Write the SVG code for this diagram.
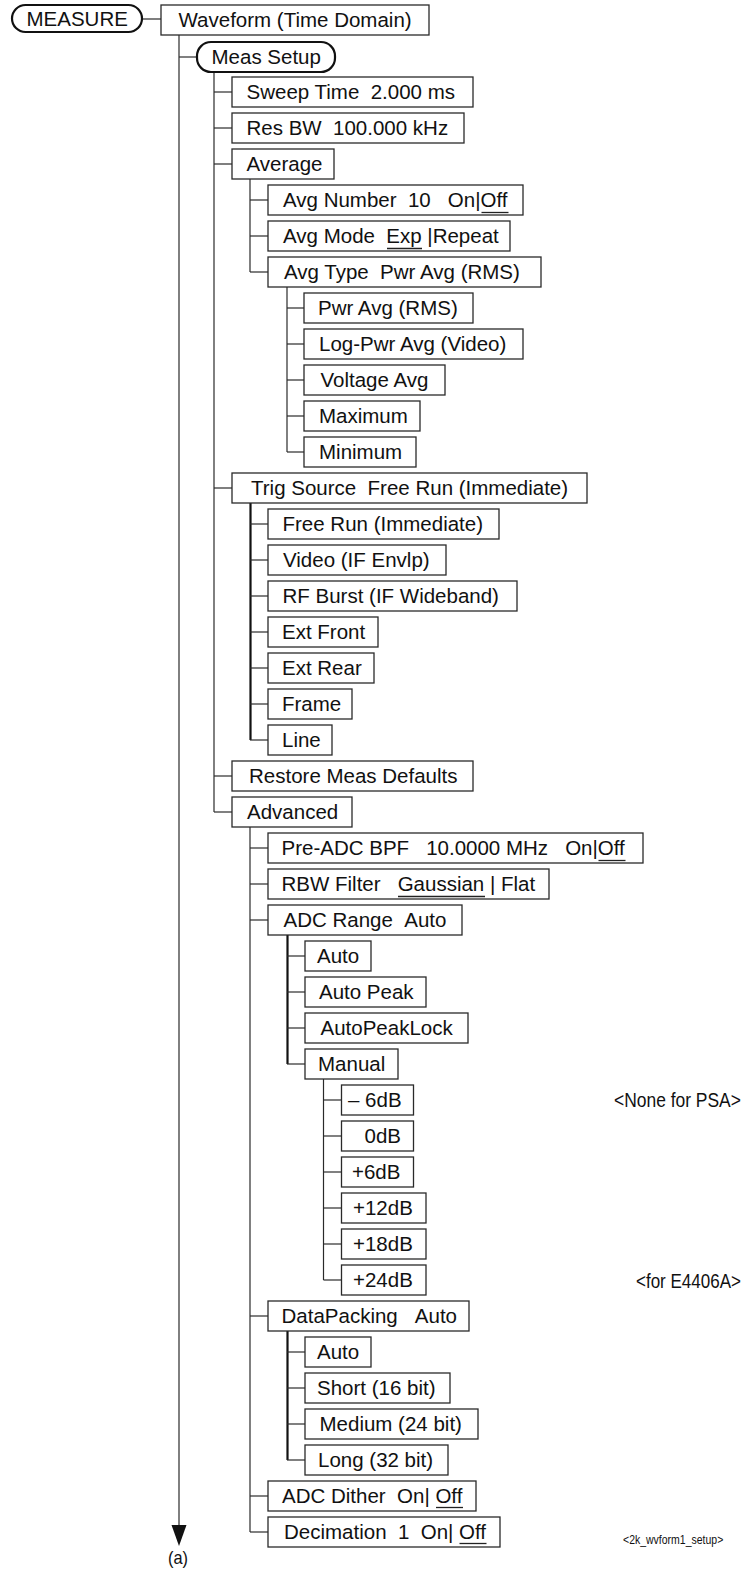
<svg xmlns="http://www.w3.org/2000/svg" width="745" height="1571" viewBox="0 0 745 1571">
<style>
  .bg{fill:#ffffff}
  .box{fill:#ffffff;stroke:#2a2a2a;stroke-width:1.3}
  .pill{fill:#ffffff;stroke:#111111;stroke-width:2.2}
  .t{font-family:"Liberation Sans",Arial,Helvetica,sans-serif;font-size:20.5px;fill:#111111}
  .ln{stroke:#2a2a2a;stroke-width:1.2;fill:none}
  .lnb{stroke:#111111;stroke-width:2.2;fill:none}
  .ul{stroke:#222222;stroke-width:1.3}
  .note{font-family:"Liberation Sans",Arial,sans-serif;fill:#111111}
</style>
<rect class="bg" x="0" y="0" width="745" height="1571"/>

<g id="connectors">
  <line class="ln" x1="142" y1="19" x2="161" y2="19"/>
  <line class="ln" x1="179" y1="35" x2="179" y2="1525"/>
  <polygon points="171.5,1525 186.5,1525 179,1546" fill="#111111"/>
  <line class="ln" x1="179" y1="57" x2="197" y2="57"/>
  <line class="ln" x1="214" y1="72" x2="214" y2="812"/>
  <line class="ln" x1="214" y1="92" x2="232" y2="92"/>
  <line class="ln" x1="214" y1="128" x2="232" y2="128"/>
  <line class="ln" x1="214" y1="164" x2="232" y2="164"/>
  <line class="ln" x1="214" y1="488" x2="232" y2="488"/>
  <line class="ln" x1="214" y1="776" x2="232" y2="776"/>
  <line class="ln" x1="214" y1="812" x2="232" y2="812"/>
  <line class="ln" x1="250" y1="179" x2="250" y2="272"/>
  <line class="ln" x1="250" y1="200" x2="268" y2="200"/>
  <line class="ln" x1="250" y1="236" x2="268" y2="236"/>
  <line class="ln" x1="250" y1="272" x2="268" y2="272"/>
  <line class="ln" x1="287" y1="287" x2="287" y2="452"/>
  <line class="ln" x1="287" y1="308" x2="304" y2="308"/>
  <line class="ln" x1="287" y1="344" x2="304" y2="344"/>
  <line class="ln" x1="287" y1="380" x2="304" y2="380"/>
  <line class="ln" x1="287" y1="416" x2="304" y2="416"/>
  <line class="ln" x1="287" y1="452" x2="304" y2="452"/>
  <line class="lnb" x1="250.5" y1="503" x2="250.5" y2="740"/>
  <line class="ln" x1="250" y1="524" x2="268" y2="524"/>
  <line class="ln" x1="250" y1="560" x2="268" y2="560"/>
  <line class="ln" x1="250" y1="596" x2="268" y2="596"/>
  <line class="ln" x1="250" y1="632" x2="268" y2="632"/>
  <line class="ln" x1="250" y1="668" x2="268" y2="668"/>
  <line class="ln" x1="250" y1="704" x2="268" y2="704"/>
  <line class="ln" x1="250" y1="740" x2="268" y2="740"/>
  <line class="ln" x1="250" y1="827" x2="250" y2="1532"/>
  <line class="ln" x1="250" y1="848" x2="268" y2="848"/>
  <line class="ln" x1="250" y1="884" x2="268" y2="884"/>
  <line class="ln" x1="250" y1="920" x2="268" y2="920"/>
  <line class="ln" x1="250" y1="1316" x2="268" y2="1316"/>
  <line class="ln" x1="250" y1="1496" x2="268" y2="1496"/>
  <line class="ln" x1="250" y1="1532" x2="268" y2="1532"/>
  <line class="lnb" x1="287.5" y1="935" x2="287.5" y2="1064"/>
  <line class="ln" x1="287" y1="956" x2="305" y2="956"/>
  <line class="ln" x1="287" y1="992" x2="305" y2="992"/>
  <line class="ln" x1="287" y1="1028" x2="305" y2="1028"/>
  <line class="ln" x1="287" y1="1064" x2="305" y2="1064"/>
  <line class="ln" x1="323.5" y1="1079" x2="323.5" y2="1280"/>
  <line class="ln" x1="323.5" y1="1100" x2="341.5" y2="1100"/>
  <line class="ln" x1="323.5" y1="1136" x2="341.5" y2="1136"/>
  <line class="ln" x1="323.5" y1="1172" x2="341.5" y2="1172"/>
  <line class="ln" x1="323.5" y1="1208" x2="341.5" y2="1208"/>
  <line class="ln" x1="323.5" y1="1244" x2="341.5" y2="1244"/>
  <line class="ln" x1="323.5" y1="1280" x2="341.5" y2="1280"/>
  <line class="lnb" x1="287.5" y1="1331" x2="287.5" y2="1460"/>
  <line class="ln" x1="287" y1="1352" x2="305" y2="1352"/>
  <line class="ln" x1="287" y1="1388" x2="305" y2="1388"/>
  <line class="ln" x1="287" y1="1424" x2="305" y2="1424"/>
  <line class="ln" x1="287" y1="1460" x2="305" y2="1460"/>
</g>

<g id="n-measure"><rect class="pill" x="12" y="5" width="130" height="27" rx="13.5"/><text class="t" x="26.5" y="26">MEASURE</text></g>
<g id="n-waveform"><rect class="box" x="161" y="5" width="268" height="30"/><text class="t" x="178.5" y="27">Waveform (Time Domain)</text></g>
<g id="n-meassetup"><rect class="pill" x="197" y="42" width="138" height="30" rx="14"/><text class="t" x="211.5" y="64">Meas Setup</text></g>
<g id="n-sweep"><rect class="box" x="232" y="77" width="241" height="30"/><text class="t" x="246.5" y="99">Sweep Time &#160;2.000 ms</text></g>
<g id="n-resbw"><rect class="box" x="232" y="113" width="232" height="30"/><text class="t" x="246.5" y="135">Res BW &#160;100.000 kHz</text></g>
<g id="n-average"><rect class="box" x="232" y="149" width="102" height="30"/><text class="t" x="246.5" y="171">Average</text></g>
<g id="n-avgnumber"><rect class="box" x="268" y="185" width="255" height="30"/><text class="t" x="283" y="207">Avg Number &#160;10 &#160;&#160;On|Off</text><line class="ul" x1="481.5" y1="212.5" x2="508.5" y2="212.5"/></g>
<g id="n-avgmode"><rect class="box" x="268" y="221" width="242" height="30"/><text class="t" x="283" y="243">Avg Mode &#160;Exp |Repeat</text><line class="ul" x1="387" y1="248.5" x2="422" y2="248.5"/></g>
<g id="n-avgtype"><rect class="box" x="268" y="257" width="273" height="30"/><text class="t" x="284" y="279">Avg Type &#160;Pwr Avg (RMS)</text></g>
<g id="n-pwravg"><rect class="box" x="304" y="293" width="169" height="30"/><text class="t" x="318" y="315">Pwr Avg (RMS)</text></g>
<g id="n-logpwr"><rect class="box" x="304" y="329" width="219" height="30"/><text class="t" x="319" y="351">Log-Pwr Avg (Video)</text></g>
<g id="n-voltage"><rect class="box" x="304" y="365" width="141" height="30"/><text class="t" x="320.5" y="387">Voltage Avg</text></g>
<g id="n-maximum"><rect class="box" x="304" y="401" width="116" height="30"/><text class="t" x="319" y="423">Maximum</text></g>
<g id="n-minimum"><rect class="box" x="304" y="437" width="112" height="30"/><text class="t" x="319" y="459">Minimum</text></g>
<g id="n-trigsource"><rect class="box" x="232" y="473" width="355" height="30"/><text class="t" x="251" y="495">Trig Source &#160;Free Run (Immediate)</text></g>
<g id="n-freerun"><rect class="box" x="268" y="509" width="231" height="30"/><text class="t" x="282.5" y="531">Free Run (Immediate)</text></g>
<g id="n-video"><rect class="box" x="268" y="545" width="178" height="30"/><text class="t" x="283" y="567">Video (IF Envlp)</text></g>
<g id="n-rfburst"><rect class="box" x="268" y="581" width="249" height="30"/><text class="t" x="282.5" y="603">RF Burst (IF Wideband)</text></g>
<g id="n-extfront"><rect class="box" x="268" y="617" width="110" height="30"/><text class="t" x="282" y="639">Ext Front</text></g>
<g id="n-extrear"><rect class="box" x="268" y="653" width="106" height="30"/><text class="t" x="282" y="675">Ext Rear</text></g>
<g id="n-frame"><rect class="box" x="268" y="689" width="84" height="30"/><text class="t" x="282" y="711">Frame</text></g>
<g id="n-line"><rect class="box" x="268" y="725" width="64" height="30"/><text class="t" x="282" y="747">Line</text></g>
<g id="n-restore"><rect class="box" x="232" y="761" width="241" height="30"/><text class="t" x="249" y="783">Restore Meas Defaults</text></g>
<g id="n-advanced"><rect class="box" x="232" y="797" width="120" height="30"/><text class="t" x="247" y="819">Advanced</text></g>
<g id="n-preadc"><rect class="box" x="268" y="833" width="375" height="30"/><text class="t" x="281.5" y="855">Pre-ADC BPF &#160;&#160;10.0000 MHz &#160;&#160;On|Off</text><line class="ul" x1="598.5" y1="860.5" x2="625.5" y2="860.5"/></g>
<g id="n-rbwfilter"><rect class="box" x="268" y="869" width="281" height="30"/><text class="t" x="281.5" y="891">RBW Filter &#160;&#160;Gaussian | Flat</text><line class="ul" x1="398" y1="896.5" x2="485" y2="896.5"/></g>
<g id="n-adcrange"><rect class="box" x="268" y="905" width="194" height="30"/><text class="t" x="283.5" y="927">ADC Range &#160;Auto</text></g>
<g id="n-adcauto"><rect class="box" x="305" y="941" width="66" height="30"/><text class="t" x="317" y="963">Auto</text></g>
<g id="n-autopeak"><rect class="box" x="305" y="977" width="121" height="30"/><text class="t" x="319" y="999">Auto Peak</text></g>
<g id="n-autopeaklock"><rect class="box" x="305" y="1013" width="163" height="30"/><text class="t" x="320.5" y="1035">AutoPeakLock</text></g>
<g id="n-manual"><rect class="box" x="305" y="1049" width="93" height="30"/><text class="t" x="318" y="1071">Manual</text></g>
<g id="n-m6db"><rect class="box" x="341.5" y="1085" width="72" height="30"/><text class="t" x="348" y="1107">– 6dB</text></g>
<g id="n-0db"><rect class="box" x="341.5" y="1121" width="72" height="30"/><text class="t" x="364.5" y="1143">0dB</text></g>
<g id="n-p6db"><rect class="box" x="341.5" y="1157" width="72" height="30"/><text class="t" x="352" y="1179">+6dB</text></g>
<g id="n-p12db"><rect class="box" x="341.5" y="1193" width="84.5" height="30"/><text class="t" x="353" y="1215">+12dB</text></g>
<g id="n-p18db"><rect class="box" x="341.5" y="1229" width="84.5" height="30"/><text class="t" x="353" y="1251">+18dB</text></g>
<g id="n-p24db"><rect class="box" x="341.5" y="1265" width="84.5" height="30"/><text class="t" x="353" y="1287">+24dB</text></g>
<g id="n-datapacking"><rect class="box" x="268" y="1301" width="201" height="30"/><text class="t" x="281.5" y="1323">DataPacking &#160;&#160;Auto</text></g>
<g id="n-dpauto"><rect class="box" x="305" y="1337" width="66" height="30"/><text class="t" x="317" y="1359">Auto</text></g>
<g id="n-short"><rect class="box" x="305" y="1373" width="145" height="30"/><text class="t" x="317" y="1395">Short (16 bit)</text></g>
<g id="n-medium"><rect class="box" x="305" y="1409" width="173" height="30"/><text class="t" x="319.5" y="1431">Medium (24 bit)</text></g>
<g id="n-long"><rect class="box" x="305" y="1445" width="143" height="30"/><text class="t" x="318" y="1467">Long (32 bit)</text></g>
<g id="n-adcdither"><rect class="box" x="268" y="1481" width="208" height="30"/><text class="t" x="282" y="1503">ADC Dither &#160;On| Off</text><line class="ul" x1="436" y1="1507.5" x2="463" y2="1507.5"/></g>
<g id="n-decimation"><rect class="box" x="268" y="1517" width="232" height="30"/><text class="t" x="284" y="1539">Decimation &#160;1 &#160;On| Off</text><line class="ul" x1="459.5" y1="1543.5" x2="486.5" y2="1543.5"/></g>

<g id="annotations">
  <text class="note" font-size="20" transform="translate(614,1107) scale(0.872,1)">&lt;None for PSA&gt;</text>
  <text class="note" font-size="20" transform="translate(636,1288) scale(0.851,1)">&lt;for E4406A&gt;</text>
  <text class="note" font-size="12.5" transform="translate(623,1544) scale(0.84,1)">&lt;2k_wvform1_setup&gt;</text>
  <text class="note" font-size="18" transform="translate(168,1564) scale(0.91,1)">(a)</text>
</g>
</svg>
